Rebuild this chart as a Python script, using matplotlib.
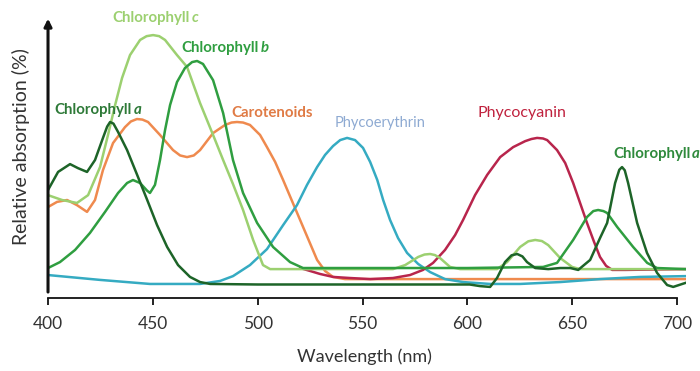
import matplotlib.pyplot as plt

plt.rcParams['font.family'] = ['Lato', 'DejaVu Sans']

# absorption spectra, wavelength in nm and relative absorption in %
chl_a_wl = [400, 404.8, 410.5, 414.3, 418.6, 422.4, 426.2, 428.2, 429.6, 431.2, 433.4, 437.7,
            442.5, 447.3, 452.0, 456.8, 462.0, 467.7, 472.5, 477.3, 500, 550, 601, 606.0,
            610.8, 614.1, 617.9, 621.0, 623.7, 626.2, 628.4, 632.3, 638.5, 644.2, 649.0,
            652.8, 658.5, 663.2, 666.6, 670.4, 672.4, 673.7, 675.0, 676.6, 680.9, 685.6,
            690.4, 695.2, 698.1, 704.0]
chl_a_abs = [40.0, 46.7, 49.6, 48.1, 46.7, 51.1, 59.3, 63.5, 65.2, 64.6, 61.5, 54.8,
             45.6, 36.3, 27.0, 18.9, 12.2, 7.8, 5.9, 5.2, 5.0, 5.0, 5.0, 4.4,
             4.1, 7.4, 13.3, 15.8, 16.3, 15.4, 13.3, 11.1, 10.7, 11.1, 11.1,
             10.4, 14.1, 22.2, 27.8, 42.6, 47.5, 48.5, 47.3, 42.6, 27.8, 16.7,
             9.3, 4.8, 4.1, 5.6]

chl_b_wl = [400, 405.7, 412.9, 420.0, 427.2, 433.4, 437.7, 440.5, 443.9, 447.2, 448.6,
            451.0, 453.4, 455.8, 458.2, 461.5, 465.3, 468.7, 471.1, 473.9, 478.7, 483.5,
            488.2, 493.0, 499.7, 507.3, 515.4, 521.6, 600, 636.1, 642.7, 650.4, 657.0,
            660.0, 662.3, 664.8, 666.6, 671.4, 679.0, 685.7, 690.4, 704.0]
chl_b_abs = [11.1, 13.3, 17.8, 24.1, 31.9, 38.9, 42.6, 43.7, 42.6, 39.8, 38.9,
             41.9, 51.1, 62.2, 71.5, 80.0, 85.2, 87.4, 87.8, 86.7, 80.7, 68.5,
             51.1, 38.9, 27.8, 18.9, 13.3, 11.1, 11.1, 11.5, 13.0, 21.5, 30.0,
             32.2, 32.6, 32.2, 31.5, 26.3, 18.9, 13.0, 11.1, 10.7]

chl_c_wl = [400, 406.7, 413.8, 419.1, 424.8, 428.6, 432.0, 435.3, 439.1, 443.9, 447.0,
            450.1, 453.0, 455.8, 461.5, 466.3, 472.5, 478.7, 483.5, 488.2, 493.0, 497.8,
            502.5, 505.9, 564.5, 570.3, 576.5, 579.5, 582.2, 584.5, 586.9, 591.7, 596.5,
            614.1, 618.9, 625.1, 629.0, 632.3, 635.5, 638.5, 644.2, 649.9, 653.7, 704.0]
chl_c_abs = [38.1, 36.3, 35.2, 38.1, 48.5, 60.4, 71.5, 81.5, 90.0, 95.6, 97.0,
             97.4, 97.0, 95.6, 90.0, 85.6, 72.2, 60.4, 51.1, 42.2, 32.6, 21.5,
             12.2, 10.7, 10.7, 12.2, 15.2, 16.1, 16.3, 15.9, 14.8, 11.5, 10.7,
             10.7, 13.3, 18.9, 21.0, 21.5, 21.1, 19.6, 14.8, 11.5, 10.7, 10.7]

carot_wl = [400, 404.3, 409.1, 413.8, 418.6, 422.4, 426.2, 431.0, 436.7, 439.5, 442.4,
            445.0, 447.7, 453.4, 459.6, 463.0, 466.3, 469.5, 472.5, 478.7, 484.4, 487.5,
            490.1, 493.0, 496.3, 501.1, 504.4, 508.3, 512.1, 520.2, 528.3, 532.1, 535.9,
            541.6, 704.0]
carot_abs = [33.7, 35.6, 36.3, 34.4, 31.9, 36.3, 47.4, 57.4, 63.3, 65.4, 66.3,
             66.1, 65.2, 60.4, 54.8, 52.8, 52.2, 52.8, 54.8, 61.1, 64.1, 65.0,
             65.2, 65.0, 64.1, 60.4, 55.9, 50.4, 43.7, 28.9, 14.1, 10.0, 7.8,
             7.0, 7.0]

phycoe_wl = [400, 424.8, 448.6, 472.5, 482.0, 488.2, 496.3, 504.4, 512.1, 518.7, 523.5,
             528.3, 532.1, 535.9, 539.3, 542.6, 546.4, 550.2, 553.6, 557.0, 559.8, 563.1,
             566.9, 571.2, 576.5, 582.2, 589.3, 597.9, 610.8, 625.1, 644.2, 663.2, 682.3,
             704.0]
phycoe_abs = [8.5, 6.7, 5.2, 5.2, 6.3, 8.1, 12.2, 18.1, 27.0, 34.4, 41.9,
              48.5, 53.0, 56.3, 58.5, 59.3, 58.5, 55.6, 50.4, 43.7, 36.3, 28.9,
              22.2, 16.7, 12.6, 9.6, 7.0, 5.9, 5.2, 5.2, 5.9, 7.0, 7.8,
              8.1]

phycoc_wl = [520.2, 525.0, 529.7, 535.9, 544.0, 553.6, 564.5, 572.6, 578.8, 583.6, 589.3,
             594.1, 597.9, 603.6, 609.4, 615.6, 621.8, 627.5, 630.5, 633.2, 636.0, 638.0,
             642.7, 646.6, 650.4, 653.7, 657.0, 660.4, 663.2, 666.1, 669.0, 675.2, 704.0]
phycoc_abs = [11.1, 10.0, 8.9, 7.8, 7.4, 7.0, 7.4, 8.5, 10.4, 13.0, 17.8,
              23.3, 28.9, 38.1, 45.6, 52.2, 55.9, 58.1, 58.9, 59.3, 59.1, 58.5,
              54.8, 50.0, 42.6, 35.2, 27.8, 20.7, 15.2, 11.9, 10.4, 10.4, 10.7]

ticks = [400, 450, 500, 550, 600, 650, 700]

fig = plt.figure(figsize=(7, 3.71), dpi=100)
ax = fig.add_axes([0.0686, 0.1968, 0.9114, 0.7763])

lw = 1.8
ax.plot(carot_wl, carot_abs, color='#ef8a4e', lw=lw, solid_joinstyle='round')
ax.plot(phycoe_wl, phycoe_abs, color='#35abc2', lw=lw, solid_joinstyle='round')
ax.plot(phycoc_wl, phycoc_abs, color='#b8254c', lw=lw, solid_joinstyle='round')
ax.plot(chl_c_wl, chl_c_abs, color='#9cd070', lw=lw, solid_joinstyle='round')
ax.plot(chl_b_wl, chl_b_abs, color='#2f9e40', lw=lw, solid_joinstyle='round')
ax.plot(chl_a_wl, chl_a_abs, color='#1d6428', lw=lw, solid_joinstyle='round')

ax.set_xlim(400, 704.2)
ax.set_ylim(0, 106.7)
for s in ['top', 'right', 'left']:
    ax.spines[s].set_visible(False)
ax.spines['bottom'].set_bounds(400, 700)
ax.spines['bottom'].set_linewidth(1.3)
ax.spines['bottom'].set_color('#111111')
ax.set_xticks(ticks)
ax.set_yticks([])
ax.tick_params(axis='x', direction='out', length=5, width=1.3, color='#111111',
               labelsize=12.5, labelcolor='#333333', pad=8)

# vertical axis drawn as an arrow
ax.annotate('', xy=(400, 103.5), xytext=(400, 2.2),
            arrowprops=dict(arrowstyle='-|>', lw=2.2, color='#111111',
                            mutation_scale=11, shrinkA=0, shrinkB=0),
            annotation_clip=False)

fig.text(364 / 700, 1 - 357 / 371, 'Wavelength (nm)', ha='center', va='center',
         fontsize=13, color='#333333')
fig.text(21 / 700, 1 - 147 / 371, 'Relative absorption (%)', ha='center', va='center',
         rotation=90, fontsize=14, color='#333333')


def pigment_label(x, y, name, letter, color, size=10.8):
    ax.text(x, y, name, ha='right', va='center', fontsize=size, fontweight='bold',
            color=color, clip_on=False)
    ax.text(x + 0.6, y, letter, ha='left', va='center', fontsize=size, fontweight='bold',
            style='italic', color=color, clip_on=False)


pigment_label(467.7, 103.7, 'Chlorophyll', 'c', '#9cd070')
pigment_label(500.6, 92.6, 'Chlorophyll', 'b', '#2f9e40')
pigment_label(440.1, 69.6, 'Chlorophyll', 'a', '#2e7a38')
pigment_label(706.5, 53.3, 'Chlorophyll', 'a', '#2f8a3c')
ax.text(506.8, 68.5, 'Carotenoids', ha='center', va='center', fontsize=10.8,
        fontweight='bold', color='#e07b45')
ax.text(558.3, 64.8, 'Phycoerythrin', ha='center', va='center', fontsize=10.5,
        color='#8eaad2')
ax.text(626.0, 68.5, 'Phycocyanin', ha='center', va='center', fontsize=11.5,
        color='#c0223e')

fig.savefig('out.png', dpi=100)
